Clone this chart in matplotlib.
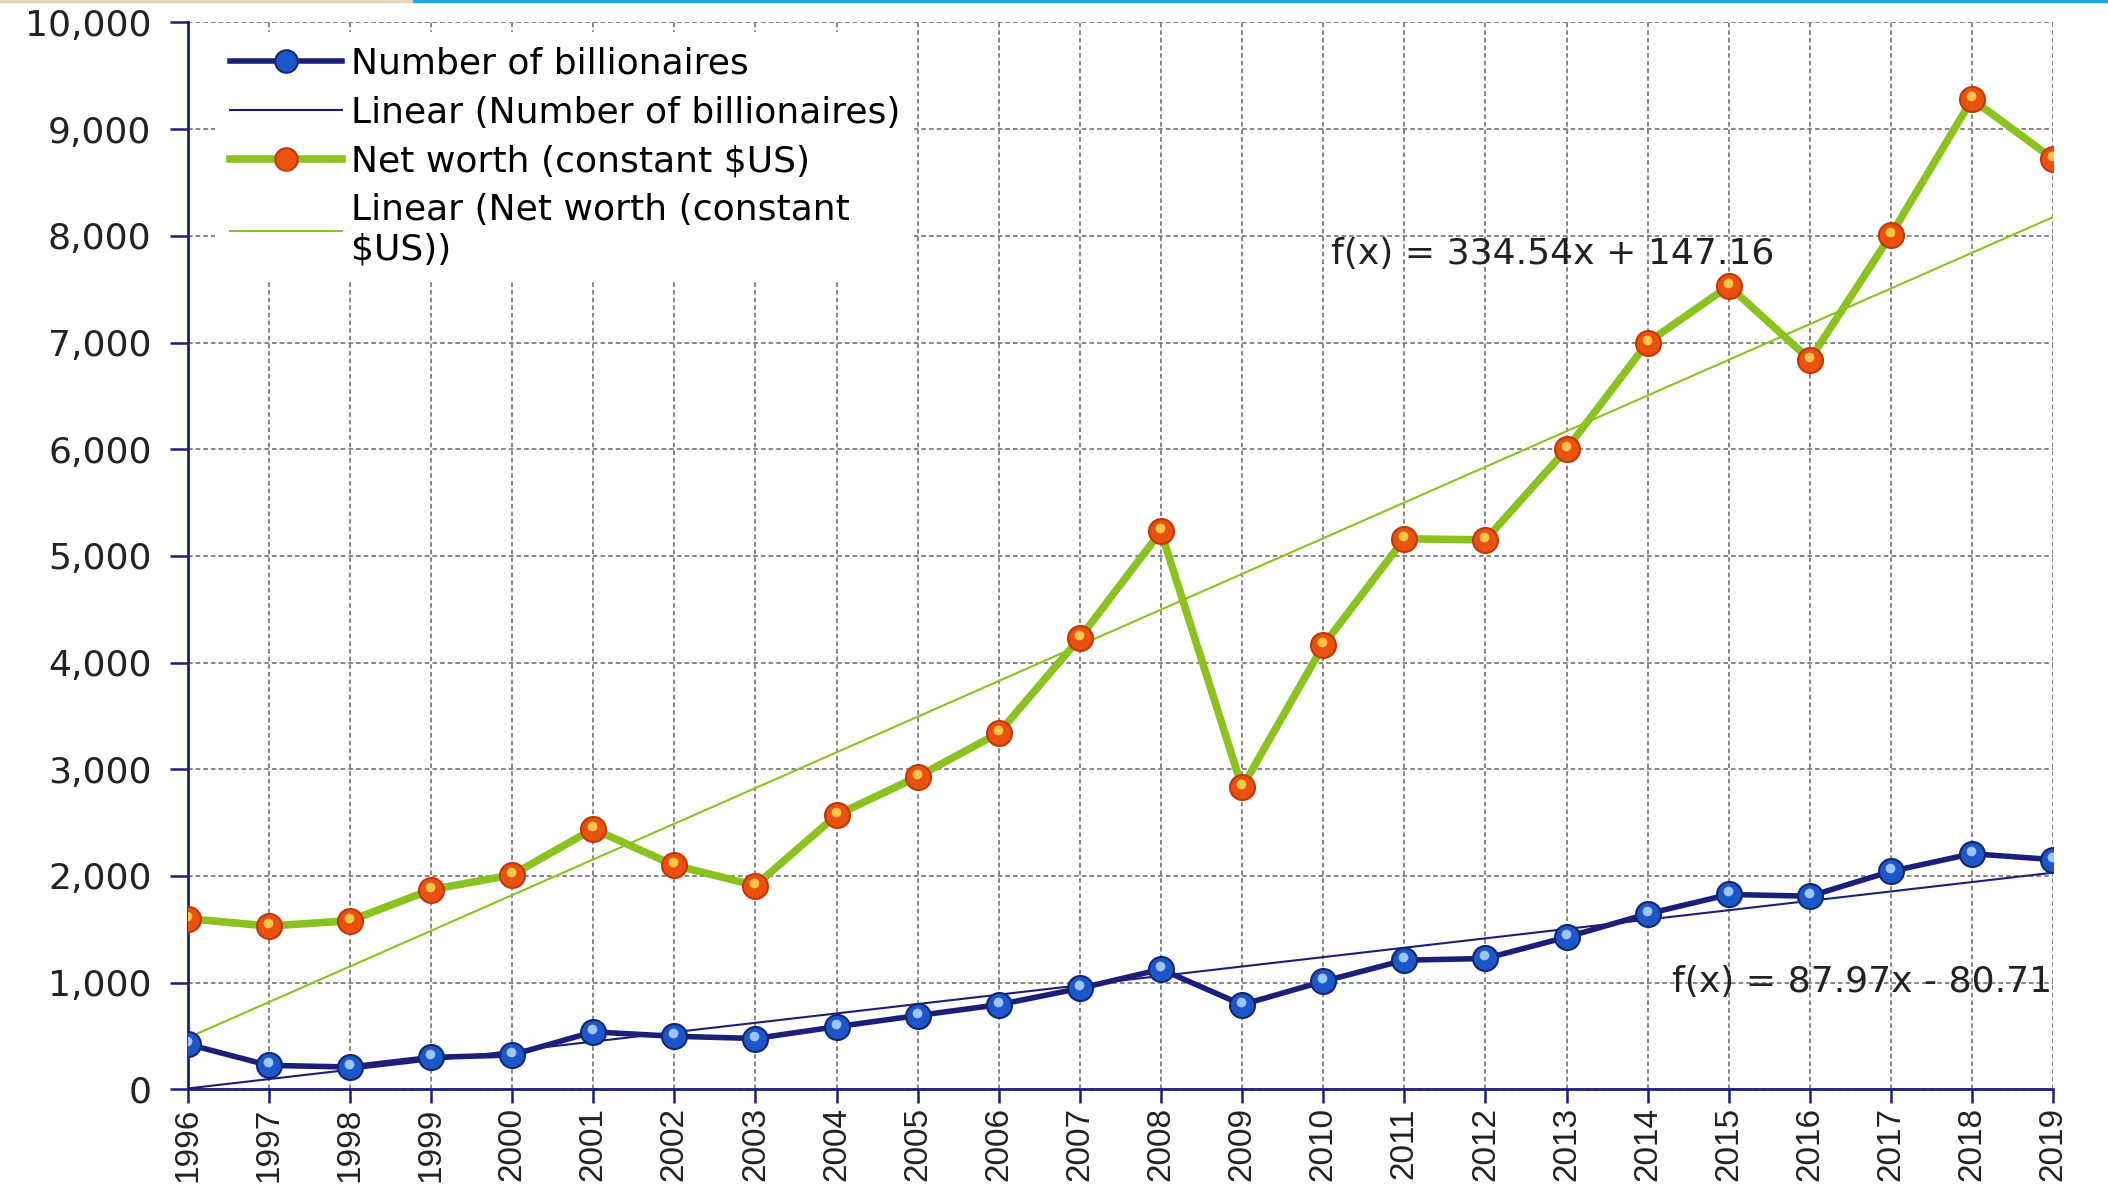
import matplotlib
matplotlib.use('Agg')
import matplotlib.pyplot as plt
from matplotlib.ticker import FuncFormatter, MultipleLocator
from matplotlib.transforms import offset_copy

plt.rcParams['font.family'] = ['DejaVu Sans']

# data
years = list(range(1996, 2020))
billionaires = [423, 224, 209, 298, 322, 538, 497, 476, 587, 691, 793, 946,
                1125, 793, 1011, 1210, 1226, 1426, 1645, 1826, 1810, 2043, 2208, 2153]
net_worth = [1600, 1530, 1580, 1870, 2010, 2440, 2100, 1910, 2570, 2930, 3340, 4230,
             5230, 2830, 4160, 5160, 5150, 6000, 7000, 7530, 6840, 8010, 9280, 8720]
# trend coefficients shown on the chart (x = 1..24)
fit_billionaires = (87.97, -80.71)
fit_net_worth = (334.54, 147.16)

navy = '#1c1f7a'
green = '#8cc21f'
fs = 26

fig = plt.figure(figsize=(21.08, 11.84), dpi=100)
ax = fig.add_axes([0.089, 0.080, 0.885, 0.901])

idx = list(range(1, len(years) + 1))
trend_b = [fit_billionaires[0] * i + fit_billionaires[1] for i in idx]
trend_n = [fit_net_worth[0] * i + fit_net_worth[1] for i in idx]

# small offset for the shiny spot on the ball markers
shine = offset_copy(ax.transData, fig=fig, x=-1, y=3, units='dots')

ax.plot(years, billionaires, color=navy, lw=4, marker='o', ms=18,
        mfc='#1d56c8', mec='#10286e', mew=1.5, label='Number of billionaires', zorder=5)
ax.plot(years, billionaires, ls='none', marker='o', ms=7, mfc='#9cc4ff', mec='none',
        transform=shine, zorder=6)
ax.plot(years, trend_b, color=navy, lw=1.5, label='Linear (Number of billionaires)', zorder=4)
ax.plot(years, net_worth, color=green, lw=5.5, marker='o', ms=18,
        mfc='#e8520e', mec='#c23808', mew=1.5, label='Net worth (constant $US)', zorder=5)
ax.plot(years, net_worth, ls='none', marker='o', ms=7, mfc='#ffc44a', mec='none',
        transform=shine, zorder=6)
ax.plot(years, trend_n, color=green, lw=1.5, label='Linear (Net worth (constant\n$US))', zorder=4)

ax.text(2010.1, 7834, 'f(x) = 334.54x + 147.16', fontsize=fs, va='center', color='#222222')
ax.text(2014.3, 1008, 'f(x) = 87.97x - 80.71', fontsize=fs, va='center', color='#222222',
        clip_on=False)

ax.set_xlim(1996, 2019)
ax.set_ylim(0, 10000)
ax.set_xticks(years)
ax.set_xticklabels([str(y) for y in years], rotation=90,
                   fontfamily='Liberation Sans', fontsize=24)
ax.yaxis.set_major_locator(MultipleLocator(1000))
ax.yaxis.set_major_formatter(FuncFormatter(lambda v, p: f'{int(v):,}'))
ax.tick_params(axis='y', labelsize=fs, colors=navy, labelcolor='#222222',
               length=13, width=1.8, pad=13)
ax.tick_params(axis='x', colors=navy, labelcolor='#222222', length=10, width=1.8, pad=3)

ax.grid(True, color='#666666', ls=(0, (3, 2)), lw=1.1)
for s in ['top', 'right']:
    ax.spines[s].set_visible(False)
for s in ['left', 'bottom']:
    ax.spines[s].set_color(navy)
    ax.spines[s].set_linewidth(2)

handles, labels = ax.get_legend_handles_labels()
leg = ax.legend(handles, labels, loc='upper left', bbox_to_anchor=(0.009, 1.001),
                fontsize=fs, frameon=True, framealpha=1, edgecolor='none',
                handlelength=3.1, labelspacing=0.41, borderpad=0.4, borderaxespad=0.3,
                handletextpad=0.25, markerscale=0.9)
leg.set_zorder(10)

# thin banner strip at the very top of the image
fig.patches.append(plt.Rectangle((0, 0.998), 0.196, 0.002, transform=fig.transFigure,
                                 color='#e8d8b8', zorder=0))
fig.patches.append(plt.Rectangle((0.196, 0.998), 0.804, 0.002, transform=fig.transFigure,
                                 color='#19a8e8', zorder=0))

fig.savefig('out.png', dpi=100)
plt.close(fig)
